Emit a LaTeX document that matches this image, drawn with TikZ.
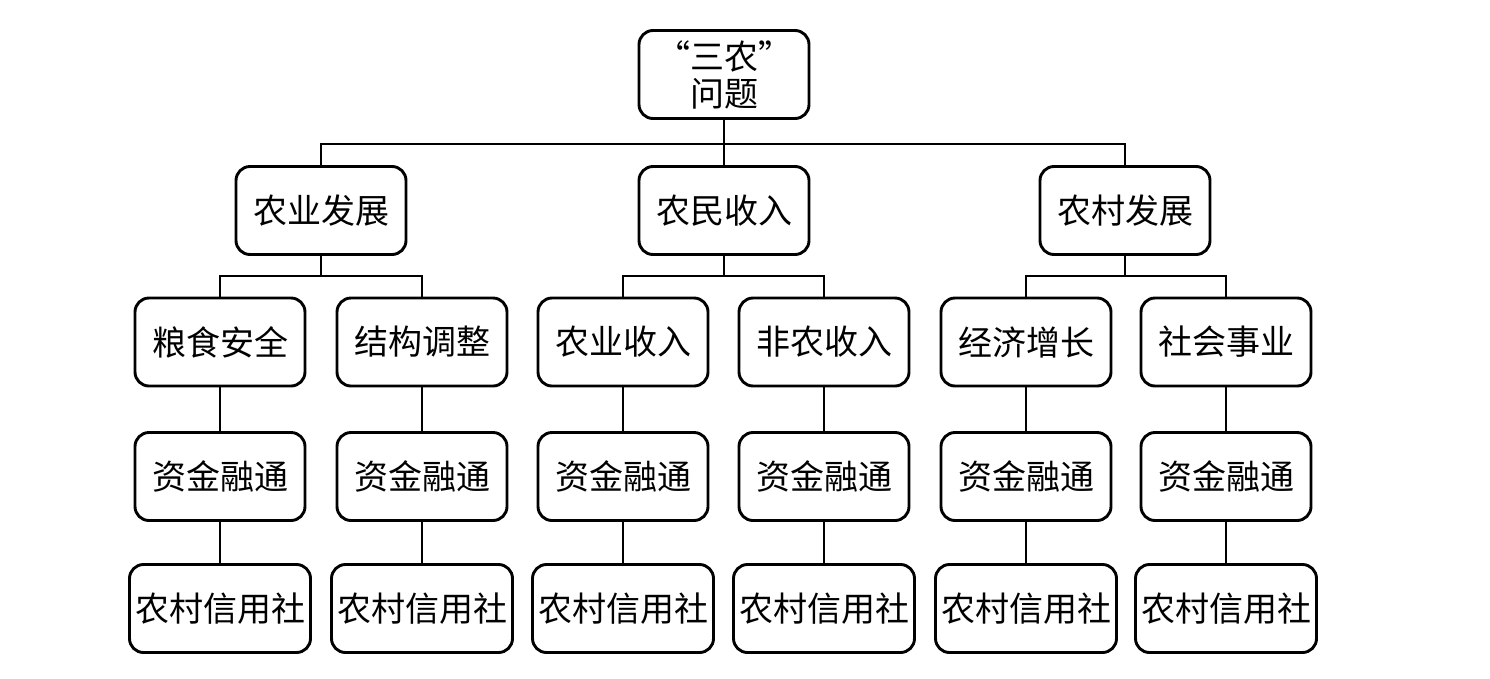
\documentclass[tikz,border=0pt]{standalone}
\usepackage{fontspec}
\setmainfont{Noto Sans CJK SC}
\begin{document}
\begin{tikzpicture}[x=1pt,y=-1pt,
  box/.style={draw, line width=2.9pt, rounded corners=14pt, minimum width=170pt,
    minimum height=88pt, inner sep=0pt, align=center,
    font=\fontsize{34}{37}\selectfont},
  widebox/.style={box, minimum width=181pt},
  link/.style={line width=2.9pt}]
\useasboundingbox (0,0) rectangle (1490,678);
% top
\node[box] (top) at (724,74.5) {“三农”\\问题};
% level 2
\node[box] (a) at (321,210.5) {农业发展};
\node[box] (b) at (724,210.5) {农民收入};
\node[box] (c) at (1125,210.5) {农村发展};
% level 3
\node[box] (a1) at (220,342) {粮食安全};
\node[box] (a2) at (422,342) {结构调整};
\node[box] (b1) at (623,342) {农业收入};
\node[box] (b2) at (824,342) {非农收入};
\node[box] (c1) at (1026,342) {经济增长};
\node[box] (c2) at (1226,342) {社会事业};
% level 4
\node[box] (a1f) at (220,476.5) {资金融通};
\node[box] (a2f) at (422,476.5) {资金融通};
\node[box] (b1f) at (623,476.5) {资金融通};
\node[box] (b2f) at (824,476.5) {资金融通};
\node[box] (c1f) at (1026,476.5) {资金融通};
\node[box] (c2f) at (1226,476.5) {资金融通};
% level 5
\node[widebox] (a1r) at (220,608.5) {农村信用社};
\node[widebox] (a2r) at (422,608.5) {农村信用社};
\node[widebox] (b1r) at (623,608.5) {农村信用社};
\node[widebox] (b2r) at (824,608.5) {农村信用社};
\node[widebox] (c1r) at (1026,608.5) {农村信用社};
\node[widebox] (c2r) at (1226,608.5) {农村信用社};
% bars
\coordinate (t) at (724,144);
\coordinate (ta) at (321,276);
\coordinate (tb) at (724,276);
\coordinate (tc) at (1125,276);
\draw[link] (top.south) -- (t);
\draw[link] (a.north) |- (t) -| (c.north);
\draw[link] (t) -- (b.north);
\foreach \p/\l/\r in {a/a1/a2, b/b1/b2, c/c1/c2} {
  \draw[link] (\p.south) -- (t\p);
  \draw[link] (\l.north) |- (t\p) -| (\r.north);
}
\foreach \n in {a1,a2,b1,b2,c1,c2} {
  \draw[link] (\n.south) -- (\n f.north);
  \draw[link] (\n f.south) -- (\n r.north);
}
\end{tikzpicture}
\end{document}
